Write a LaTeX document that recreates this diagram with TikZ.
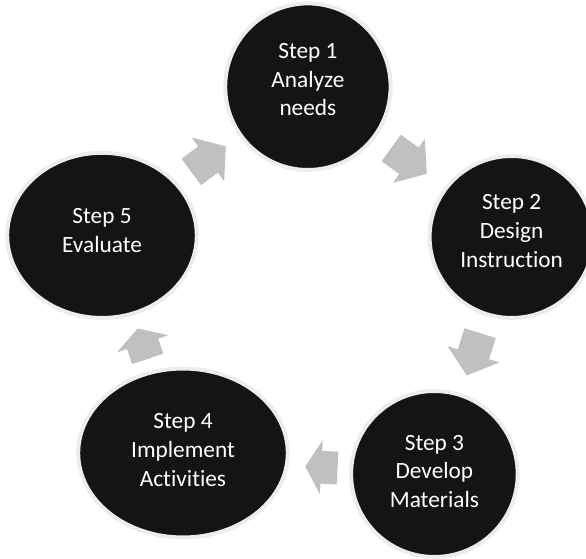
\documentclass[tikz,border=0pt]{standalone}
\usepackage{fontspec}
\setmainfont{Carlito}[Ligatures=NoCommon]
\usetikzlibrary{shapes.geometric,shapes.arrows}
\definecolor{ringgray}{RGB}{237,237,237}
\definecolor{arrowgray}{RGB}{191,193,192}
\definecolor{stepblack}{RGB}{20,20,20}

\begin{document}
\begin{tikzpicture}[x=1pt,y=1pt,
  stepcircle/.style={ellipse,fill=stepblack,draw=ringgray,line width=4pt,inner sep=0pt},
  steptext/.style={text=white,align=center,inner sep=0pt,font=\fontsize{23.3}{28.6}\selectfont},
  cyclearrow/.style={single arrow,fill=arrowgray,inner xsep=0pt,inner ysep=16.2pt,
    minimum width=54pt,single arrow head extend=10.8pt,anchor=tip}]
\useasboundingbox (0,0) rectangle (586,559);
% the steps
\node[stepcircle,minimum width=165.4pt,minimum height=166.6pt] (s1) at (307.9,472.3) {};
\node[stepcircle,minimum width=164pt,minimum height=162pt] (s2) at (511.6,322) {};
\node[stepcircle,minimum width=166.6pt,minimum height=166pt] (s3) at (434.4,85) {};
\node[stepcircle,minimum width=209.6pt,minimum height=169pt] (s4) at (183,106) {};
\node[stepcircle,minimum width=189.6pt,minimum height=165.2pt] (s5) at (102,323.6) {};
% the labels
\node[steptext,yshift=7pt] (t1) at (s1) {Step 1\\Analyze\\needs};
\node[steptext,yshift=6pt] (t2) at (s2) {Step 2\\Design\\Instruction};
\node[steptext,yshift=2.5pt] (t3) at (s3) {Step 3\\Develop\\Materials};
\node[steptext,yshift=3pt] (t4) at (s4) {Step 4\\Implement\\Activities};
\node[steptext,yshift=4.6pt] (t5) at (s5) {Step 5\\Evaluate};
% the arrows, placed by their tips
\node[cyclearrow,minimum height=44pt,single arrow tip angle=101.7,rotate=-36] (a12) at (427,385) {};
\node[cyclearrow,minimum height=44.4pt,single arrow tip angle=101.7,rotate=-107.5] (a23) at (466.7,183.3) {};
\node[cyclearrow,minimum height=32.3pt,single arrow tip angle=118.7,rotate=177] (a34) at (305,92.6) {};
\node[cyclearrow,minimum height=32pt,single arrow tip angle=118.7,rotate=108.5] (a45) at (137.5,230.7) {};
\node[cyclearrow,minimum height=43pt,single arrow tip angle=101.7,rotate=36.5] (a51) at (226,412.8) {};
\end{tikzpicture}
\end{document}
